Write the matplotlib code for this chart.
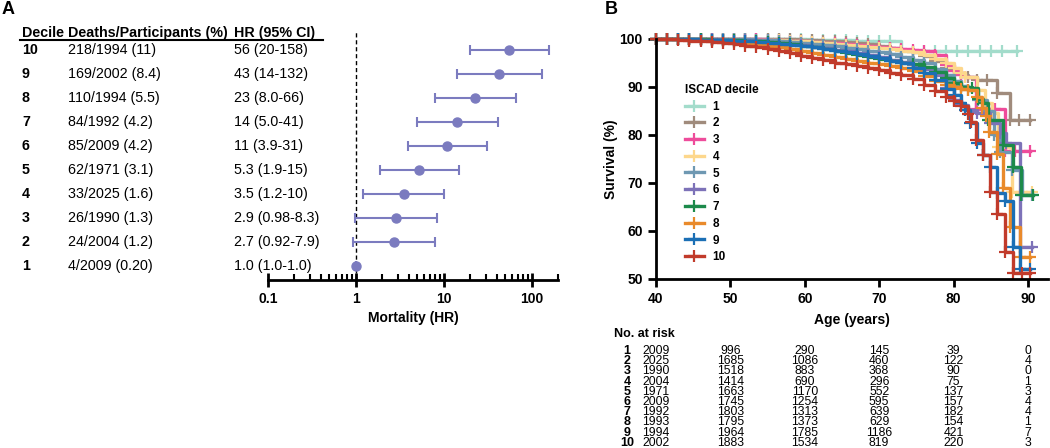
import numpy as np
import matplotlib
matplotlib.use('Agg')
import matplotlib.pyplot as plt
from matplotlib import transforms
from matplotlib.ticker import LogLocator, NullFormatter

plt.rcParams['font.family'] = ['Liberation Sans', 'DejaVu Sans']

# ---- panel A: forest plot by decile ----
DECILES = [1, 2, 3, 4, 5, 6, 7, 8, 9, 10]
DEATHS = [4, 24, 26, 33, 62, 85, 84, 110, 169, 218]
PARTICIPANTS = [2009, 2004, 1990, 2025, 1971, 2009, 1992, 1994, 2002, 1994]
PERCENT = ['0.20', '1.2', '1.3', '1.6', '3.1', '4.2', '4.2', '5.5', '8.4', '11']
HR = [1.0, 2.7, 2.9, 3.5, 5.3, 11, 14, 23, 43, 56]
HR_LO = [1.0, 0.92, 0.98, 1.2, 1.9, 3.9, 5.0, 8.0, 14, 20]
HR_HI = [1.0, 7.9, 8.3, 10, 15, 31, 41, 66, 132, 158]
HR_TEXT = ['1.0 (1.0-1.0)', '2.7 (0.92-7.9)', '2.9 (0.98-8.3)', '3.5 (1.2-10)',
           '5.3 (1.9-15)', '11 (3.9-31)', '14 (5.0-41)', '23 (8.0-66)',
           '43 (14-132)', '56 (20-158)']
HR_TICKS = [0.1, 1, 10, 100]

# ---- panel B: Kaplan-Meier survival by decile ----
AGE_GRID = [40, 41.5, 43, 44.5, 46, 47.5, 49, 50.5, 52, 53.5, 55, 56.5, 58,
            59.5, 61, 62.5, 64, 65.5, 67, 68.5, 70, 71.5, 73, 74.5, 76, 77.5]
EARLY_SURV = [
    [100, 100, 100, 100, 100, 100, 100, 100, 100, 100, 100, 100, 99.9, 99.9, 99.8, 99.8, 99.7, 99.7, 99.6, 99.6, 99.6, 99.6, 97.6, 97.6, 97.6, 97.6],
    [100, 100, 100, 100, 100, 100, 100, 100, 100, 100, 100, 99.9, 99.9, 99.8, 99.7, 99.6, 99.5, 99.3, 99.1, 98.9, 98.6, 98.2, 97.7, 97.2, 96.4, 95.4],
    [100, 100, 100, 100, 100, 100, 100, 100, 99.9, 99.9, 99.8, 99.7, 99.6, 99.5, 99.4, 99.2, 99.1, 98.9, 98.7, 98.6, 98.4, 98.2, 98.0, 97.8, 97.4, 96.7],
    [100, 100, 100, 100, 100, 100, 99.9, 99.9, 99.9, 99.8, 99.8, 99.7, 99.6, 99.5, 99.3, 99.2, 99.0, 98.8, 98.6, 98.4, 98.2, 97.9, 97.6, 97.2, 96.6, 95.8],
    [100, 100, 100, 100, 100, 99.9, 99.9, 99.9, 99.9, 99.8, 99.7, 99.6, 99.4, 99.2, 99.0, 98.8, 98.5, 98.2, 97.9, 97.6, 97.2, 96.8, 96.3, 95.7, 94.9, 93.8],
    [100, 100, 100, 99.9, 99.9, 99.9, 99.8, 99.8, 99.7, 99.6, 99.4, 99.2, 99.0, 98.7, 98.4, 98.1, 97.8, 97.4, 97.0, 96.6, 96.2, 95.7, 95.2, 94.6, 93.8, 92.6],
    [100, 100, 100, 99.9, 99.9, 99.8, 99.8, 99.7, 99.6, 99.5, 99.3, 99.1, 98.9, 98.6, 98.3, 97.9, 97.5, 97.1, 96.7, 96.3, 95.9, 95.5, 95.1, 94.7, 94.1, 93.2],
    [100, 99.9, 99.9, 99.8, 99.7, 99.6, 99.5, 99.3, 99.1, 98.9, 98.6, 98.3, 97.9, 97.5, 97.1, 96.6, 96.2, 95.8, 95.4, 95.1, 94.8, 94.4, 94.0, 93.3, 92.3, 91.2],
    [100, 100, 99.9, 99.9, 99.8, 99.8, 99.7, 99.6, 99.5, 99.4, 99.2, 99.0, 98.8, 98.6, 98.3, 97.9, 97.6, 97.3, 96.9, 96.5, 96.1, 95.5, 94.9, 94.0, 92.9, 91.5],
    [100, 99.9, 99.8, 99.6, 99.5, 99.3, 99.1, 98.9, 98.6, 98.3, 97.9, 97.5, 97.0, 96.5, 96.0, 95.6, 95.1, 94.7, 94.3, 94.0, 93.6, 93.0, 92.4, 91.6, 90.5, 89.2],
]
TAIL_AGES = [
    [79, 80.5, 82, 83.5, 85, 86.5, 88.5],
    [79, 80, 81, 82, 83.1, 84.5, 85.8, 87.6, 88.8, 90.3],
    [79, 80, 81, 81.6, 83.0, 84.3, 85.6, 86.9, 88.3, 90.3],
    [79, 80, 81, 81.6, 83.2, 84.2, 85.2, 86.0, 87.8, 89.2, 90.5],
    [79, 80, 81, 82, 83.3, 84.5, 85.4, 86.2, 87.8, 89.2, 90.5],
    [79, 80, 81, 82, 83.1, 84.9, 86.2, 87.1, 89.0, 90.5],
    [79, 80, 81, 82.5, 83.3, 84.0, 84.7, 86.7, 88.0, 89.1, 90.7],
    [79, 80, 81, 82, 83.1, 83.8, 84.3, 84.8, 85.8, 86.6, 87.6, 88.9, 90.3],
    [79, 80, 81, 81.5, 82.2, 83.1, 84.0, 84.9, 85.8, 86.9, 88.0, 88.9, 90.3],
    [79, 80, 81, 81.9, 82.3, 83.0, 84.0, 84.9, 85.8, 86.9, 88.0, 89.2, 90.3],
]
TAIL_SURV = [
    [97.6, 97.6, 97.6, 97.6, 97.6, 97.6, 97.6],
    [94.0, 93.3, 92.6, 92.0, 91.5, 91.5, 88.7, 83.1, 83.1, 83.1],
    [94.6, 93.4, 92.4, 92.1, 85.4, 85.4, 85.4, 76.6, 76.6, 76.6],
    [94.9, 94.0, 93.0, 92.1, 89.4, 86.6, 84.5, 77.6, 68.2, 68.2, 68.2],
    [92.5, 91.3, 90.2, 89.3, 87.3, 85.0, 80.0, 76.5, 72.7, 67.5, 67.5],
    [89.8, 87.3, 86.3, 85.3, 84.5, 82.4, 80.4, 78.3, 56.6, 56.6],
    [91.9, 90.9, 90.0, 89.7, 87.6, 86.6, 83.2, 78.0, 73.4, 67.4, 67.4],
    [90.4, 90.0, 89.6, 89.3, 88.0, 85.6, 84.0, 80.7, 76.0, 69.0, 60.9, 54.6, 54.6],
    [89.6, 88.3, 86.6, 85.3, 82.4, 78.3, 75.8, 73.3, 68.0, 66.3, 56.7, 52.1, 52.1],
    [87.9, 87.0, 86.0, 84.4, 82.7, 79.0, 75.8, 68.2, 63.5, 55.6, 51.3, 51.3, 51.3],
]
KM_COLORS = ['#a3dccb', '#a08b7c', '#ee4c9b', '#fdd78c', '#6e98b2',
             '#7d72b8', '#1c8a4b', '#e98a2b', '#1b6fb5', '#c13b2b']

RISK_AGES = [40, 50, 60, 70, 80, 90]
AT_RISK = [
    [2009, 996, 290, 145, 39, 0],
    [2025, 1685, 1086, 460, 122, 4],
    [1990, 1518, 883, 368, 90, 0],
    [2004, 1414, 690, 296, 75, 1],
    [1971, 1663, 1170, 552, 137, 3],
    [2009, 1745, 1254, 595, 157, 4],
    [1992, 1803, 1313, 639, 182, 4],
    [1993, 1795, 1373, 629, 154, 1],
    [1994, 1964, 1785, 1186, 421, 7],
    [2002, 1883, 1534, 819, 220, 3],
]

FOREST_COLOR = '#7b7bbf'
W, H = 1050, 448


def fx(px):
    return px / W


def fy(py):
    return 1 - py / H


def draw_forest(fig):
    ax = fig.add_axes([fx(268), fy(280), fx(558) - fx(268), fy(32) - fy(280)])
    ax.set_xscale('log')
    ax.set_xlim(0.1, 200)
    ax.set_ylim(0.42, 10.75)

    ax.axvline(1, color='black', ls=(0, (3, 2)), lw=1, zorder=1)
    hr = np.array(HR)
    err = [hr - np.array(HR_LO), np.array(HR_HI) - hr]
    ax.errorbar(hr, DECILES, xerr=err, fmt='o', color=FOREST_COLOR, ms=6.5,
                elinewidth=1.5, capsize=3.5, capthick=1.5, zorder=3, clip_on=False)

    for s in ['top', 'right', 'left']:
        ax.spines[s].set_visible(False)
    ax.spines['bottom'].set_linewidth(2)
    ax.set_yticks([])
    ax.set_xticks(HR_TICKS, [f'{t:g}' for t in HR_TICKS])
    ax.xaxis.set_minor_locator(LogLocator(base=10, subs=np.arange(2, 10), numticks=20))
    ax.xaxis.set_minor_formatter(NullFormatter())
    ax.tick_params(axis='x', which='major', direction='inout', length=10, width=2, labelsize=10)
    ax.tick_params(axis='x', which='minor', direction='in', length=4, width=1.5)
    for lbl in ax.get_xticklabels():
        lbl.set_fontweight('bold')
    ax.set_xlabel('Mortality (HR)', fontweight='bold', fontsize=10, labelpad=4)

    # table to the left of the plot
    tbl = transforms.blended_transform_factory(fig.transFigure, ax.transData)
    cols = [fx(22), fx(68), fx(234)]
    for x, head in zip(cols, ['Decile', 'Deaths/Participants (%)', 'HR (95% CI)']):
        ax.text(x, 10.71, head, transform=tbl, fontweight='bold', fontsize=10.3, va='center')
    ax.plot([fx(20), fx(323)], [10.42, 10.42], transform=tbl, color='black', lw=1.5, clip_on=False)
    for i, d in enumerate(DECILES):
        ax.text(cols[0], d, str(d), transform=tbl, fontweight='bold', fontsize=10.3, va='center')
        ax.text(cols[1], d, f'{DEATHS[i]}/{PARTICIPANTS[i]} ({PERCENT[i]})', transform=tbl,
                fontsize=10.3, va='center')
        ax.text(cols[2], d, HR_TEXT[i], transform=tbl, fontsize=10.3, va='center')


def draw_km(fig):
    ax = fig.add_axes([fx(656), fy(279), fx(1048) - fx(656), fy(39) - fy(279)])
    for i in range(10):
        ages = AGE_GRID + TAIL_AGES[i]
        surv = EARLY_SURV[i] + TAIL_SURV[i]
        ax.step(ages, surv, where='post', color=KM_COLORS[i], lw=2.4, marker='+', ms=8,
                mew=1.6, label=str(i + 1), clip_on=False)

    ax.set_xlim(40, 92.7)
    ax.set_ylim(50, 100)
    ax.set_xticks(RISK_AGES)
    ax.set_yticks([50, 60, 70, 80, 90, 100])
    for s in ['top', 'right']:
        ax.spines[s].set_visible(False)
    for s in ['left', 'bottom']:
        ax.spines[s].set_linewidth(2)
    ax.tick_params(length=6, width=2, labelsize=10)
    for lbl in ax.get_xticklabels() + ax.get_yticklabels():
        lbl.set_fontweight('bold')
    ax.set_xlabel('Age (years)', fontweight='bold', fontsize=10, labelpad=5)
    ax.set_ylabel('Survival (%)', fontweight='bold', fontsize=10, labelpad=1)

    ax.legend(title='ISCAD decile', loc='upper left', bbox_to_anchor=(fx(685), fy(84)),
              bbox_transform=fig.transFigure, frameon=False,
              prop={'weight': 'bold', 'size': 8.5},
              title_fontproperties={'weight': 'bold', 'size': 8.5},
              handlelength=1.6, labelspacing=0.4, handletextpad=0.75,
              borderpad=0, borderaxespad=0, alignment='left')

    # number at risk table
    fig.text(fx(614), fy(334), 'No. at risk', fontweight='bold', fontsize=9, va='center')
    risk_tf = transforms.blended_transform_factory(ax.transData, fig.transFigure)
    for i, row in enumerate(AT_RISK):
        y = fy(351 + i * 10.2)
        fig.text(fx(627), y, str(i + 1), ha='center', va='center', fontweight='bold', fontsize=9)
        for age, n in zip(RISK_AGES, row):
            ax.text(age, y, str(n), transform=risk_tf, ha='center', va='center', fontsize=8.8)


def main():
    fig = plt.figure(figsize=(10.5, 4.48), dpi=100)
    draw_forest(fig)
    draw_km(fig)
    fig.text(fx(2), fy(10), 'A', fontweight='bold', fontsize=13, va='center')
    fig.text(fx(605), fy(10), 'B', fontweight='bold', fontsize=13, va='center')
    fig.savefig('out.png', dpi=100)


if __name__ == '__main__':
    main()
